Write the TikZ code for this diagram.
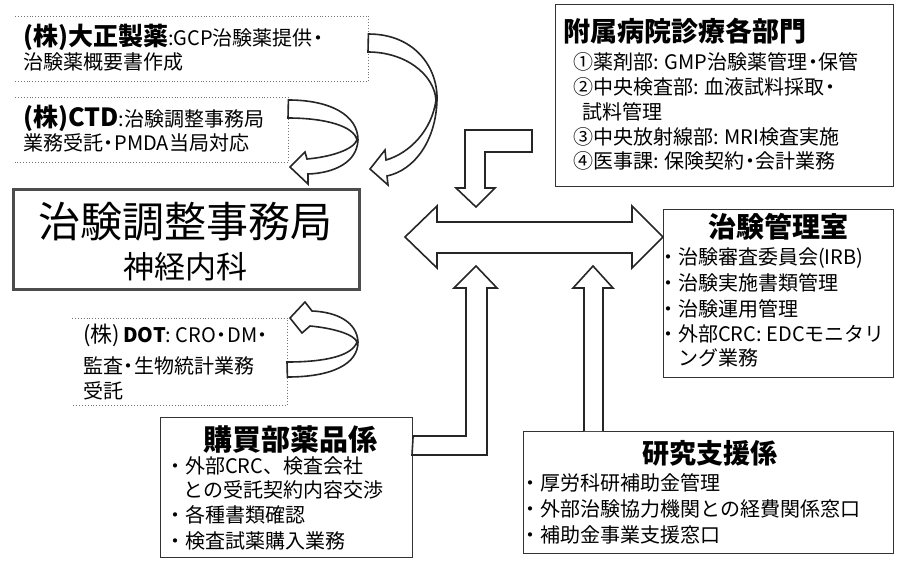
\documentclass[tikz,border=0pt]{standalone}
\usepackage{fontspec}
\setmainfont{Noto Sans CJK JP}
\newcommand{\mdt}{\kern-0.22em・\kern-0.22em}
\begin{document}
\begin{tikzpicture}[x=1pt,y=-1pt,
  txt/.style={anchor=west, inner sep=0pt, font=\fontsize{20}{24}\selectfont},
  ttl/.style={anchor=center, inner sep=0pt, font=\fontsize{28}{32}\selectfont\bfseries},
  bx/.style={anchor=north west, inner sep=0pt},
  solidbox/.style={bx, draw=black!80, line width=1.1pt},
  dotline/.style={draw=black!55, dotted, line width=0.9pt},
  blk/.style={draw=black!85, line width=1.6pt, fill=white, line join=miter}]
\fill[white] (0,0) rectangle (899,560);
\useasboundingbox (0,0) rectangle (899,560);

% ---------- boxes ----------
\node[bx, minimum width=353pt, minimum height=65pt] (taisho) at (15,16) {};
\node[bx, minimum width=273pt, minimum height=65pt] (ctd) at (15,97) {};
\node[bx, minimum width=215pt, minimum height=87pt] (dot) at (72,318) {};
\node[bx, draw=black!70, line width=3pt, minimum width=346pt, minimum height=100pt] (main) at (12,188) {};
\node[solidbox, minimum width=338pt, minimum height=182pt] (hosp) at (555,4) {};
\node[solidbox, minimum width=230pt, minimum height=168pt] (kanri) at (663,209) {};
\node[solidbox, minimum width=252pt, minimum height=140pt] (kobai) at (160,417) {};
\node[solidbox, minimum width=370pt, minimum height=122pt] (kenkyu) at (523,431) {};

\draw[dotline] (taisho.north west) -- (taisho.north east) -- (taisho.south east) -- (taisho.south west);
\draw[dotline] (ctd.north west) -- (ctd.north east) -- (ctd.south east) -- (ctd.south west);
\draw[dotline] (dot.north west) -- (dot.north east) -- (dot.south east) -- (dot.south west);

% ---------- texts ----------
\node[txt] (t1a) at (23,37) {{\bfseries\fontsize{25}{28}\selectfont (株)大正製薬}:GCP治験薬提供\mdt};
\node[txt] (t1b) at (23,62) {治験薬概要書作成};
\node[txt] (t2a) at (23,118) {{\bfseries\fontsize{25}{28}\selectfont (株)CTD}:治験調整事務局};
\node[txt] (t2b) at (23,143) {業務受託\mdt PMDA当局対応};

\node[inner sep=0pt, font=\fontsize{42}{46}\selectfont] (mt) at (185,222) {治験調整事務局};
\node[inner sep=0pt, font=\fontsize{31}{34}\selectfont] (ms) at (185,267) {神経内科};

\node[txt] (t3a) at (83,335) {{\fontsize{22}{26}\selectfont (株)}\,{\bfseries DOT}: CRO\mdt DM\mdt};
\node[txt] (t3b) at (83,366) {監査\mdt 生物統計業務};
\node[txt] (t3c) at (83,391) {受託};

\node[ttl, anchor=west, font=\fontsize{27}{30}\selectfont\bfseries] (ht) at (563,31) {附属病院診療各部門};
\node[txt] (h1) at (573,62) {①薬剤部: GMP治験薬管理\mdt 保管};
\node[txt] (h2) at (573,87) {②中央検査部: 血液試料採取\mdt};
\node[txt] (h3) at (582,112) {試料管理};
\node[txt] (h4) at (573,137) {③中央放射線部: MRI検査実施};
\node[txt] (h5) at (573,161) {④医事課: 保険契約\mdt 会計業務};

\node[ttl] (kt) at (778,227) {治験管理室};
\node[txt] (k1) at (658,258) {・治験審査委員会(IRB)};
\node[txt] (k2) at (658,283) {・治験実施書類管理};
\node[txt] (k3) at (658,309) {・治験運用管理};
\node[txt] (k4) at (658,334) {・外部CRC: EDCモニタリ};
\node[txt] (k5) at (678,358) {ング業務};

\node[ttl, font=\fontsize{29}{32}\selectfont\bfseries] (bt) at (290,440) {購買部薬品係};
\node[txt] (b1) at (165,466) {・外部CRC、検査会社};
\node[txt] (b2) at (183,490) {との受託契約内容交渉};
\node[txt] (b3) at (165,515) {・各種書類確認};
\node[txt] (b4) at (165,541) {・検査試薬購入業務};

\node[ttl, font=\fontsize{27}{30}\selectfont\bfseries] (rt) at (710,453) {研究支援係};
\node[txt] (r1) at (520,483) {・厚労科研補助金管理};
\node[txt] (r2) at (520,509) {・外部治験協力機関との経費関係窓口};
\node[txt] (r3) at (520,535) {・補助金事業支援窓口};

% ---------- block arrows ----------
% curved: Taisho -> main
\path[blk] (taisho.north east |- 0,34) .. controls (415,34) and (438,68) .. (437,100)
  .. controls (436,140) and (415,170) .. (387,176) -- (388,185) -- (370,169) -- (385,150) -- (386,160)
  .. controls (410,153) and (432,130) .. (436,100) .. controls (434,74) and (405,52) .. (368,52) -- cycle;
% curved: CTD -> main
\path[blk] (ctd.north east |- 0,100) .. controls (330,100) and (358,115) .. (358,140)
  .. controls (357,162) and (335,173) .. (308,174) -- (308,184) -- (290,167) -- (305,152) -- (307,159)
  .. controls (330,157) and (353,150) .. (357,140) .. controls (354,126) and (325,118) .. (288,118) -- cycle;
% curved: DOT -> main
\path[blk] (dot.north east |- 0,377) .. controls (332,377) and (358,364) .. (358,342)
  .. controls (357,322) and (337,312) .. (312,311) -- (305,302) -- (290,318) -- (302,333) -- (310,326)
  .. controls (332,328) and (354,334) .. (357,342) .. controls (352,356) and (325,362) .. (287,362) -- cycle;

% L arrow down from hospital
\path[blk] (465,130) -- (532,130) -- (532,152) -- (485,152) -- (485,188) -- (495,188) -- (476,207)
  -- (456,188) -- (465,188) -- cycle;

% double arrow main <-> kanri
\path[blk] (405,237) -- (437,206) -- (437,222) -- (632,222) -- (632,206) -- (kanri.west |- 0,237)
  -- (632,268) -- (632,253) -- (437,253) -- (437,268) -- cycle;

% bent up arrow from kobai
\path[blk] (kobai.east |- 0,436) -- (466,436) -- (466,288) -- (454,288) -- (476,266) -- (497,288)
  -- (487,288) -- (487,455) -- (412,455) -- cycle;

% up arrow from kenkyu
\path[blk] (584,0 |- kenkyu.north) -- (584,288) -- (573,288) -- (593,266) -- (613,288) -- (603,288) -- (603,0 |- kenkyu.north);
\end{tikzpicture}
\end{document}
